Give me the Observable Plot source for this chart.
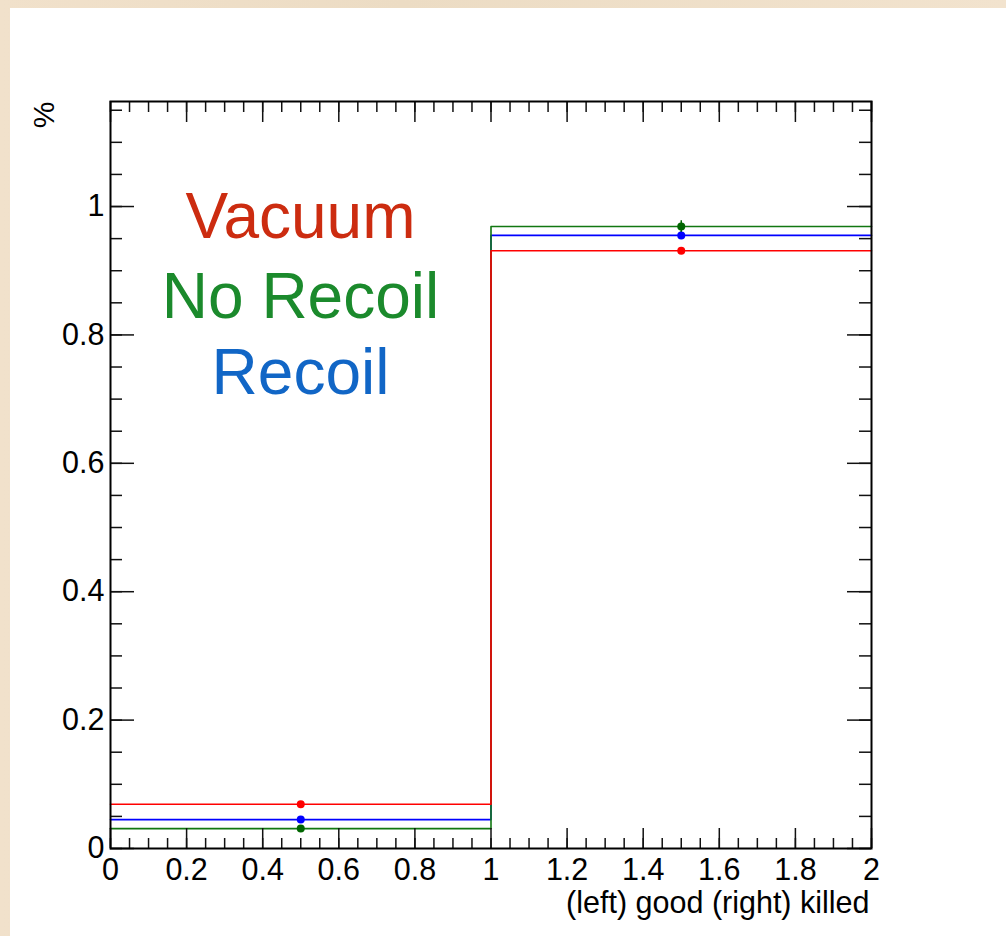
<!DOCTYPE html>
<html>
<head>
<meta charset="utf-8">
<script src="https://cdn.jsdelivr.net/npm/d3@7"></script>
<script src="https://cdn.jsdelivr.net/npm/@observablehq/plot@0.6"></script>
<style>
  html, body { margin: 0; padding: 0; }
  body { width: 1006px; height: 936px; overflow: hidden;
         background: linear-gradient(90deg, #f1e1cb, #ecdcc4 40%, #f2e3ce); position: relative; }
  #panel { position: absolute; left: 10px; top: 8px; width: 996px; height: 928px; background: #ffffff; }
  #panel svg g[aria-label="x-axis tick label"], #panel svg g[aria-label="y-axis tick label"] { font-size: 30.5px; }
</style>
</head>
<body>
<div id="panel"></div>
<script>
// ---- data ----
const binEdges = [0, 1, 2];
const binCenters = [0.5, 1.5];
const seriesNames = ["Vacuum", "No Recoil", "Recoil"];
const vacuum = [0.069, 0.931];
const noRecoil = [0.031, 0.969];
const recoil = [0.045, 0.955];
const vacuumErr = [0.003, 0.004];
const noRecoilErr = [0.002, 0.009];
const recoilErr = [0.002, 0.006];
const xMajorTicks = [0, 0.2, 0.4, 0.6, 0.8, 1, 1.2, 1.4, 1.6, 1.8, 2];
const yMajorTicks = [0, 0.2, 0.4, 0.6, 0.8, 1];
const xMinorTicks = d3.range(0, 2.0001, 0.05);
const yMinorTicks = d3.range(0, 1.1501, 0.05);
const xLabel = "(left) good (right) killed";
const yLabel = "%";

const lineColors = { "Vacuum": "#ff0000", "No Recoil": "#117711", "Recoil": "#0000ff" };
const dotColors = { "Vacuum": "#ff0000", "No Recoil": "#006600", "Recoil": "#0000ff" };
const textColors = { "Vacuum": "#cc2c10", "No Recoil": "#1b8a2c", "Recoil": "#1166c6" };

const W = 996, H = 928;
const mL = 100, mT = 93, mR = 135, mB = 88;
const iw = W - mL - mR, ih = H - mT - mB;

const valuesBy = { "Vacuum": vacuum, "No Recoil": noRecoil, "Recoil": recoil };
const errBy = { "Vacuum": vacuumErr, "No Recoil": noRecoilErr, "Recoil": recoilErr };
const drawOrder = ["Recoil", "No Recoil", "Vacuum"];

function stepData(name) {
  const v = valuesBy[name];
  return [
    { x: binEdges[0], y: v[0] },
    { x: binEdges[1], y: v[1] },
    { x: binEdges[2], y: v[1] }
  ];
}
function pointData(name) {
  return binCenters.map((c, i) => ({ x: c, y: valuesBy[name][i], e: errBy[name][i] }));
}

const marks = [];
for (const name of drawOrder) {
  marks.push(Plot.line(stepData(name), { x: "x", y: "y", curve: "step-after", stroke: lineColors[name], strokeWidth: 1.6 }));
}
for (const name of drawOrder) {
  const pd = pointData(name);
  marks.push(Plot.ruleX(pd, { x: "x", y1: d => d.y - d.e, y2: d => d.y + d.e, stroke: dotColors[name], strokeWidth: 1.5 }));
  marks.push(Plot.dot(pd, { x: "x", y: "y", r: 4, fill: dotColors[name], stroke: "none" }));
}

// ticks (inside, mirrored)
const tickStroke = { stroke: "#111", strokeWidth: 1.5 };
marks.push(Plot.ruleX(xMajorTicks, { x: d => d, insetTop: ih - 20, ...tickStroke }));
marks.push(Plot.ruleX(xMinorTicks, { x: d => d, insetTop: ih - 10, ...tickStroke }));
marks.push(Plot.ruleX(xMajorTicks, { x: d => d, insetBottom: ih - 21, ...tickStroke }));
marks.push(Plot.ruleX(xMinorTicks, { x: d => d, insetBottom: ih - 11, ...tickStroke }));
marks.push(Plot.ruleY(yMajorTicks, { y: d => d, insetRight: iw - 24, ...tickStroke }));
marks.push(Plot.ruleY(yMinorTicks, { y: d => d, insetRight: iw - 12, ...tickStroke }));
marks.push(Plot.ruleY(yMajorTicks, { y: d => d, insetLeft: iw - 24, ...tickStroke }));
marks.push(Plot.ruleY(yMinorTicks, { y: d => d, insetLeft: iw - 12, ...tickStroke }));

marks.push(Plot.frame({ stroke: "#000", strokeWidth: 2 }));

// axes labels
marks.push(Plot.axisX({ ticks: xMajorTicks, tickSize: 0, tickPadding: 10, tickFormat: d => String(d), label: null, fill: "#000" }));
marks.push(Plot.axisY({ ticks: yMajorTicks, tickSize: 0, tickPadding: 6, tickFormat: d => String(d), label: null, fill: "#000" }));

marks.push(Plot.text([xLabel], { text: d => d, frameAnchor: "bottom-right", textAnchor: "end", lineAnchor: "middle", dy: 55, dx: -2, fontSize: 30.5, fill: "#000" }));
marks.push(Plot.text([yLabel], { text: d => d, frameAnchor: "top-left", textAnchor: "end", lineAnchor: "middle", rotate: -90, dx: -66, dy: 0, fontSize: 30, fill: "#000" }));

// legend text
const legendDy = [116, 196, 272];
seriesNames.forEach((name, i) => {
  marks.push(Plot.text([name], { text: d => d, frameAnchor: "top-left", textAnchor: "middle", lineAnchor: "middle", dx: 190, dy: legendDy[i], fontSize: 64, fontWeight: 300, fill: textColors[name] }));
});

const chart = Plot.plot({
  width: W, height: H,
  marginLeft: mL, marginTop: mT, marginRight: mR, marginBottom: mB,
  x: { domain: [0, 2] },
  y: { domain: [0, 1.1636] },
  style: { fontFamily: "'Liberation Sans', Helvetica, Arial, sans-serif", fontSize: "29px", background: "transparent", color: "#000", overflow: "visible" },
  marks
});
document.getElementById("panel").appendChild(chart);
</script>
</body>
</html>
